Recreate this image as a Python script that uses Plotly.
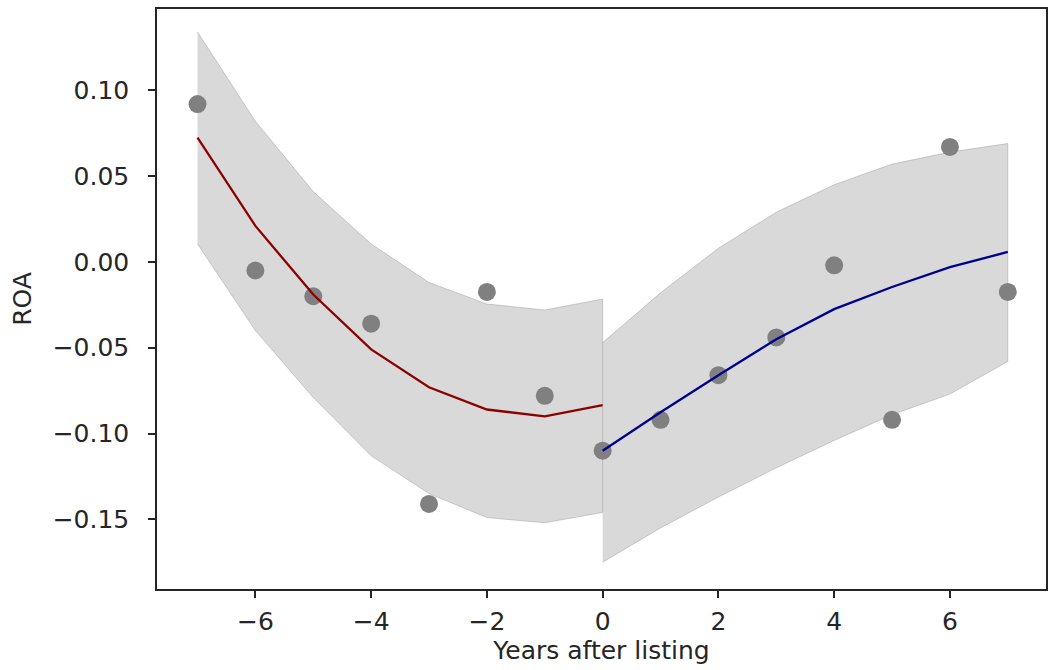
import plotly.graph_objects as go

# ---- data ----
years = [-7, -6, -5, -4, -3, -2, -1, 0, 1, 2, 3, 4, 5, 6, 7]
roa = [0.092, -0.005, -0.020, -0.036, -0.141, -0.0175, -0.078, -0.110,
       -0.092, -0.066, -0.044, -0.002, -0.092, 0.067, -0.0175]

years_pre = [-7, -6, -5, -4, -3, -2, -1, 0]
fit_pre = [0.0724, 0.021, -0.019, -0.051, -0.073, -0.086, -0.090, -0.0835]
upper_pre = [0.134, 0.082, 0.041, 0.0105, -0.012, -0.0245, -0.028, -0.0216]
lower_pre = [0.0105, -0.040, -0.079, -0.113, -0.135, -0.149, -0.152, -0.146]

years_post = [0, 1, 2, 3, 4, 5, 6, 7]
fit_post = [-0.110, -0.0876, -0.066, -0.045, -0.0275, -0.0146, -0.003, 0.0058]
upper_post = [-0.047, -0.018, 0.008, 0.029, 0.045, 0.057, 0.064, 0.069]
lower_post = [-0.175, -0.155, -0.137, -0.120, -0.104, -0.089, -0.077, -0.058]

xtick_vals = [-6, -4, -2, 0, 2, 4, 6]
xtick_text = ["\u22126", "\u22124", "\u22122", "0", "2", "4", "6"]
ytick_vals = [0.10, 0.05, 0.00, -0.05, -0.10, -0.15]
ytick_text = ["0.10", "0.05", "0.00", "\u22120.05", "\u22120.10", "\u22120.15"]

band_fill = "rgba(128,128,128,0.3)"
band_line = "rgba(128,128,128,0.35)"

fig = go.Figure()

for xs, up, lo in [(years_pre, upper_pre, lower_pre), (years_post, upper_post, lower_post)]:
    fig.add_trace(go.Scatter(x=xs + xs[::-1], y=up + lo[::-1], mode="lines",
                             fill="toself", fillcolor=band_fill,
                             line=dict(color=band_line, width=1),
                             hoverinfo="skip", showlegend=False))

fig.add_trace(go.Scatter(x=years, y=roa, mode="markers",
                         marker=dict(color="#808080", size=18),
                         showlegend=False))

fig.add_trace(go.Scatter(x=years_pre, y=fit_pre, mode="lines",
                         line=dict(color="#8b0000", width=2.3), showlegend=False))
fig.add_trace(go.Scatter(x=years_post, y=fit_post, mode="lines",
                         line=dict(color="#00008b", width=2.3), showlegend=False))

font = dict(family="DejaVu Sans", size=25, color="#262626")

fig.update_layout(
    width=1050, height=670,
    margin=dict(l=157, r=2, t=9, b=81),
    plot_bgcolor="white", paper_bgcolor="white",
    font=font,
    xaxis=dict(range=[-7.70, 7.66], tickvals=xtick_vals, ticktext=xtick_text,
               showgrid=False, zeroline=False, showline=True, mirror=True,
               linecolor="#262626", linewidth=1.5, ticks="outside", ticklen=7,
               tickwidth=1.5, tickcolor="#262626", tickfont=font,
               ticklabelstandoff=2,
               title=dict(text="Years after listing", font=font, standoff=6)),
    yaxis=dict(range=[-0.1906, 0.1474], tickvals=ytick_vals, ticktext=ytick_text,
               showgrid=False, zeroline=False, showline=True, mirror=True,
               linecolor="#262626", linewidth=1.5, ticks="outside", ticklen=7,
               tickwidth=1.5, tickcolor="#262626", tickfont=font,
               ticklabelstandoff=14,
               title=dict(text="ROA", font=font, standoff=14)),
)

fig.write_html("out.html")
